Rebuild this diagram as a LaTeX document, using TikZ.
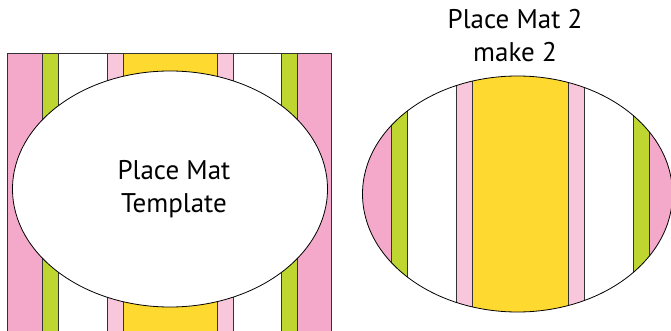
\documentclass[tikz,border=0pt]{standalone}
\usepackage{fontspec}
\newfontfamily\matfont{PT Sans}
\usepackage{tikz}
\usetikzlibrary{positioning}

\definecolor{matpink}{HTML}{F4A9CA}
\definecolor{matrose}{HTML}{F8C7DB}
\definecolor{matgreen}{HTML}{BFD631}
\definecolor{matyellow}{HTML}{FED92F}

\begin{document}
\begin{tikzpicture}[x=1pt, y=-1pt,
    stripe/.style={draw=black!80, line width=0.9pt},
    oval/.style={draw=black, line width=0.8pt},
    label/.style={font=\matfont\fontsize{27}{33}\selectfont, align=center, inner sep=0pt}
]
\useasboundingbox (0,0) rectangle (671,331);

% Template: stripes under the oval
\foreach \xa/\xb/\col in {7/42/matpink, 42/58/matgreen, 58/107/white, 107/123/matrose,
    123/217/matyellow, 217/233/matrose, 233/281/white, 281/297/matgreen, 297/331/matpink} {
    \draw[stripe, fill=\col] (\xa,340) -- (\xa,53) -- (\xb,53) -- (\xb,340);
}
\draw[oval, fill=white] (170,189) ellipse [x radius=157.5, y radius=118];
\node[label] (template) at (174,189) {Place Mat\\Template};

% Place mat 2: stripes cut by the oval
\begin{scope}
    \clip (517.5,194) ellipse [x radius=155, y radius=118];
    \foreach \xa/\xb/\col in {350/391/matpink, 391/407/matgreen, 407/456/white, 456/472/matrose,
        472/568/matyellow, 568/584/matrose, 584/633/white, 633/649/matgreen, 649/690/matpink} {
        \draw[stripe, fill=\col] (\xa,60) rectangle (\xb,330);
    }
\end{scope}
\draw[oval] (517.5,194) ellipse [x radius=155, y radius=118];
\node[label] (mattwo) at (515,36) {Place Mat 2\\make 2};

\end{tikzpicture}
\end{document}
